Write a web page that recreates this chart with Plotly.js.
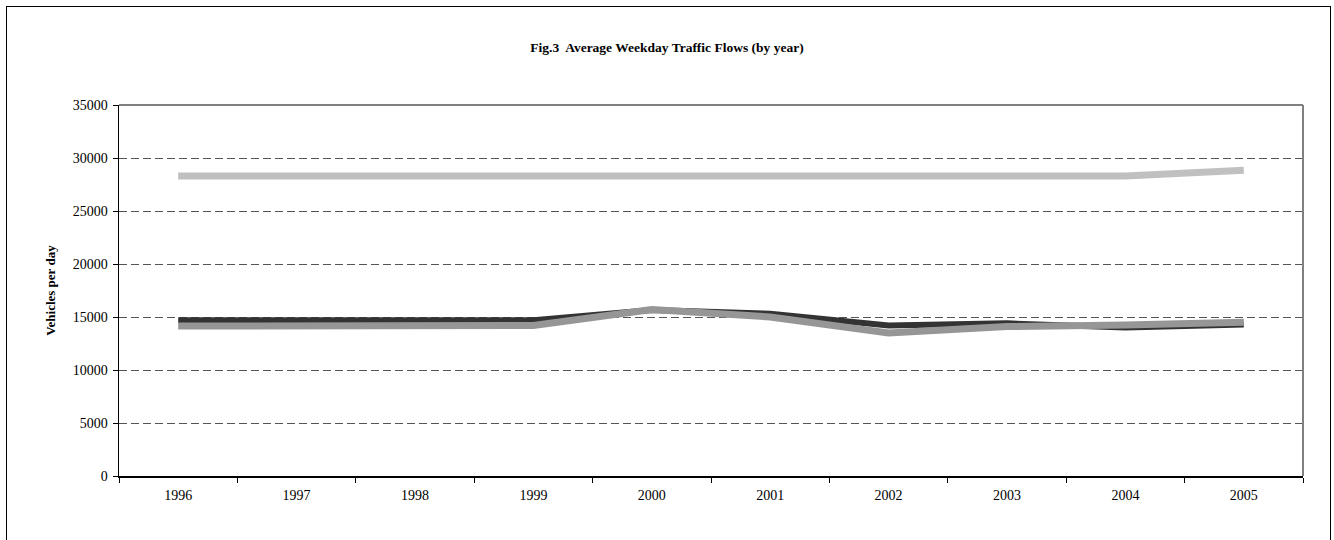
<!DOCTYPE html>
<html>
<head>
<meta charset="utf-8">
<script src="https://cdn.plot.ly/plotly-3.0.1.min.js"></script>
<style>
  html, body { margin: 0; padding: 0; background: #ffffff; }
  #frame { position: absolute; left: 6px; top: 6px; width: 1325px; height: 560px; border: 1px solid #000; box-sizing: border-box; pointer-events: none; z-index: 5; }
  #chart { position: absolute; left: 0; top: 0; width: 1334px; height: 540px; }
</style>
</head>
<body>
<div id="chart"></div>
<div id="frame"></div>
<script>
// Data
const years = ['1996', '1997', '1998', '1999', '2000', '2001', '2002', '2003', '2004', '2005'];
const seriesDark = [14700, 14700, 14700, 14700, 15650, 15300, 14200, 14400, 14000, 14300];
const seriesMid = [14150, 14150, 14200, 14200, 15700, 15000, 13500, 14100, 14250, 14500];
const seriesLight = [28300, 28300, 28300, 28300, 28300, 28300, 28300, 28300, 28300, 28850];
const yTicks = [0, 5000, 10000, 15000, 20000, 25000, 30000, 35000];

const font = 'Liberation Serif, Times New Roman, serif';

const traces = [
  { x: years, y: seriesDark, type: 'scatter', mode: 'lines', name: 'Series A',
    line: { color: '#333333', width: 6 } },
  { x: years, y: seriesMid, type: 'scatter', mode: 'lines', name: 'Series B',
    line: { color: '#969696', width: 7 } },
  { x: years, y: seriesLight, type: 'scatter', mode: 'lines', name: 'Series C',
    line: { color: '#c0c0c0', width: 7 } }
];

const layout = {
  width: 1334,
  height: 540,
  margin: { l: 119, r: 31, t: 105, b: 64, pad: 0 },
  paper_bgcolor: '#ffffff',
  plot_bgcolor: '#ffffff',
  showlegend: false,
  font: { family: font, size: 14, color: '#000000' },
  title: {
    text: '<b>Fig.3\u00a0 Average Weekday Traffic Flows (by year)</b>',
    font: { family: font, size: 13.5, color: '#000000' },
    x: 0.5, xref: 'container', xanchor: 'center',
    y: 1 - 47 / 540, yref: 'container', yanchor: 'middle'
  },
  xaxis: {
    type: 'category',
    range: [-0.5, years.length - 0.5],
    tickmode: 'array',
    tickvals: years,
    ticktext: years,
    tickson: 'boundaries',
    ticks: 'outside',
    ticklen: 5,
    tickwidth: 1,
    tickcolor: '#000000',
    ticklabelstandoff: 6,
    showline: true,
    linecolor: '#000000',
    linewidth: 1.5,
    showgrid: false,
    zeroline: false,
    tickfont: { family: font, size: 14, color: '#000000' },
    automargin: false
  },
  yaxis: {
    range: [0, 35000],
    tickmode: 'array',
    tickvals: yTicks,
    ticktext: yTicks.map(String),
    ticks: 'outside',
    ticklen: 5,
    tickwidth: 1,
    tickcolor: '#000000',
    ticklabelstandoff: 2,
    showline: true,
    linecolor: '#000000',
    linewidth: 1.5,
    showgrid: true,
    gridcolor: '#555555',
    gridwidth: 1,
    griddash: '8px,4px',
    zeroline: false,
    tickfont: { family: font, size: 14, color: '#000000' },
    title: {
      text: '<b>Vehicles per day</b>',
      font: { family: font, size: 13, color: '#000000' },
      standoff: 14
    },
    automargin: false
  },
  shapes: [
    { type: 'line', xref: 'paper', yref: 'paper', x0: 0, x1: 1, y0: 1, y1: 1,
      line: { color: '#808080', width: 2 } },
    { type: 'line', xref: 'paper', yref: 'paper', x0: 1, x1: 1, y0: 0, y1: 1,
      line: { color: '#808080', width: 2 } }
  ]
};

Plotly.newPlot('chart', traces, layout, { staticPlot: true, displayModeBar: false });
</script>
</body>
</html>
